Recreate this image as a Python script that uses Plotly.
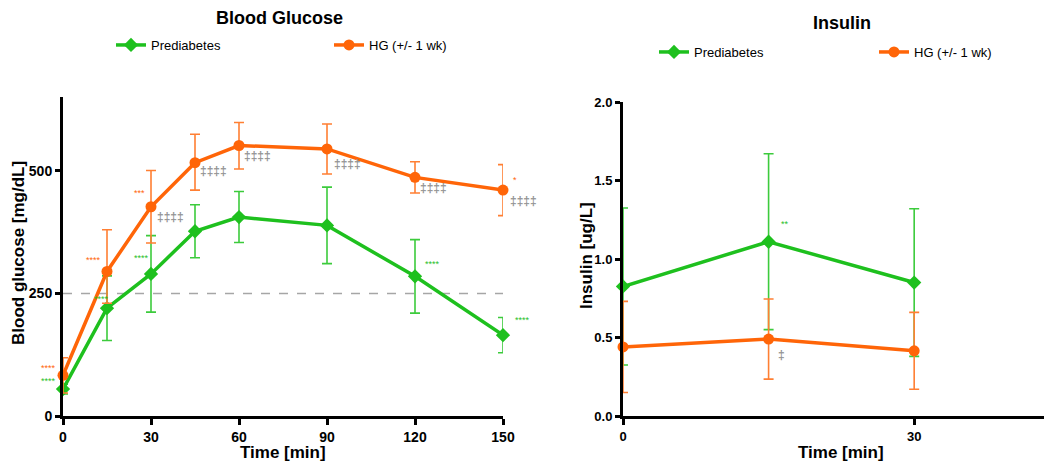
import plotly.graph_objects as go

# ---------------- data ----------------
glu_time = [0, 15, 30, 45, 60, 90, 120, 150]
glu_pre = [55, 220, 290, 377, 406, 389, 285, 165]
glu_pre_err = [10, 66, 78, 54, 52, 78, 75, 36]
glu_hg = [83, 295, 427, 517, 552, 545, 487, 461]
glu_hg_err_plus = [36, 85, 74, 58, 47, 51, 32, 52]
glu_hg_err_minus = [36, 65, 74, 56, 48, 51, 32, 52]
glu_threshold = 250

ins_time = [0, 15, 30]
ins_pre = [0.825, 1.11, 0.85]
ins_pre_err = [0.5, 0.56, 0.47]
ins_hg = [0.44, 0.49, 0.415]
ins_hg_err = [0.29, 0.255, 0.245]

series_names = ["Prediabetes", "HG (+/- 1 wk)"]

# significance labels: (panel, series, point index, text, kind)
sig_labels = [
    ("glu", "hg", 0, "****", "star"),
    ("glu", "pre", 0, "****", "star"),
    ("glu", "hg", 1, "****", "star"),
    ("glu", "pre", 1, "****", "star"),
    ("glu", "hg", 2, "***", "star"),
    ("glu", "pre", 2, "****", "star"),
    ("glu", "hg", 2, "‡‡‡‡", "dag"),
    ("glu", "hg", 3, "‡‡‡‡", "dag"),
    ("glu", "hg", 4, "‡‡‡‡", "dag"),
    ("glu", "hg", 5, "‡‡‡‡", "dag"),
    ("glu", "hg", 6, "‡‡‡‡", "dag"),
    ("glu", "hg", 7, "‡‡‡‡", "dag"),
    ("glu", "hg", 7, "*", "star"),
    ("glu", "pre", 6, "****", "star"),
    ("glu", "pre", 7, "****", "star"),
    ("ins", "pre", 1, "**", "star"),
    ("ins", "hg", 1, "‡", "dag"),
]
# pixel offsets for each label (xshift, yshift, xanchor)
sig_offsets = [
    (-5, 9, "right"), (-5, 10, "right"), (-4, 13, "right"), (-6, 11, "center"),
    (-12, 16, "center"), (-10, 18, "center"),
    (4, -10, "left"), (3, -8, "left"), (3, -10, "left"), (5, -15, "left"),
    (3, -11, "left"), (5, -11, "left"),
    (8, 12, "left"), (8, 14, "left"), (10, 17, "left"),
    (10, 20, "left"), (13, -16, "center"),
]

# ---------------- style ----------------
GREEN = "#1EC01E"
GREEN_ERR = "#3CCB3C"
ORANGE = "#FF6508"
ORANGE_ERR = "#FF7F33"
FONT = "Arial, Liberation Sans, sans-serif"

# page has an 8px body margin; figure coordinates are screen pixels minus 8
W, H, OFF = 1044, 458, 8


def px(x):
    return (x - OFF) / W


def py(y):
    return 1 - (y - OFF) / H


fig = go.Figure()


def add_series(x, y, ep, em, name, color, ecolor, symbol, xa, ya, legend):
    fig.add_trace(go.Scatter(
        x=x, y=y, name=name, mode="lines+markers",
        line=dict(color=color, width=3.5),
        marker=dict(symbol=symbol, size=11, color=color),
        error_y=dict(type="data", array=ep, arrayminus=em, symmetric=False,
                     color=ecolor, thickness=1.6, width=5),
        xaxis=xa, yaxis=ya, legend=legend, cliponaxis=False,
    ))


add_series(glu_time, glu_pre, glu_pre_err, glu_pre_err, series_names[0], GREEN, GREEN_ERR,
           "diamond", "x", "y", "legend")
add_series(glu_time, glu_hg, glu_hg_err_plus, glu_hg_err_minus, series_names[1], ORANGE, ORANGE_ERR,
           "circle", "x", "y", "legend2")
add_series(ins_time, ins_pre, ins_pre_err, ins_pre_err, series_names[0], GREEN, GREEN_ERR,
           "diamond", "x2", "y2", "legend3")
add_series(ins_time, ins_hg, ins_hg_err, ins_hg_err, series_names[1], ORANGE, ORANGE_ERR,
           "circle", "x2", "y2", "legend4")

# threshold line
fig.add_shape(type="line", xref="x", yref="y", x0=glu_time[0], x1=glu_time[-1],
              y0=glu_threshold, y1=glu_threshold,
              line=dict(color="#A6A6A6", width=1.3, dash="dash"), layer="below")

# significance annotations
data_map = {
    ("glu", "pre"): (glu_time, glu_pre, "x", "y"),
    ("glu", "hg"): (glu_time, glu_hg, "x", "y"),
    ("ins", "pre"): (ins_time, ins_pre, "x2", "y2"),
    ("ins", "hg"): (ins_time, ins_hg, "x2", "y2"),
}
for (panel, ser, idx, txt, kind), (dx, dy, xanc) in zip(sig_labels, sig_offsets):
    xs, ys, xr, yr = data_map[(panel, ser)]
    if kind == "dag":
        font = dict(color="#959595", size=12, family=FONT, weight="bold")
    else:
        font = dict(color=(GREEN if ser == "pre" else ORANGE), size=9, family=FONT)
        dy -= 2
    fig.add_annotation(x=xs[idx], y=ys[idx], xref=xr, yref=yr, text=txt, showarrow=False,
                       xshift=dx, yshift=dy, xanchor=xanc, yanchor="middle", font=font)


# titles & axis titles
def paper_text(x, y, text, size, angle=0):
    fig.add_annotation(x=px(x), y=py(y), xref="paper", yref="paper", text=text,
                       showarrow=False, textangle=angle, xanchor="center", yanchor="middle",
                       font=dict(size=size, family=FONT, color="black", weight="bold"))


paper_text(279, 18, "Blood Glucose", 18)
paper_text(842, 23, "Insulin", 18)
paper_text(18, 253, "Blood glucose [mg/dL]", 17, -90)
paper_text(586, 256, "Insulin [ug/L]", 17, -90)
paper_text(283, 452, "Time [min]", 17)
paper_text(841, 452, "Time [min]", 17)

axis_common = dict(showline=True, linecolor="black", linewidth=3, ticks="outside",
                   tickwidth=2.5, tickcolor="black", showgrid=False, zeroline=False,
                   tickfont=dict(family=FONT, size=14, color="black", weight="bold"))
tf13 = dict(family=FONT, size=13, color="black", weight="bold")


def legend_at(x_px, y_px):
    return dict(orientation="h", x=px(x_px), y=py(y_px), xanchor="left", yanchor="middle",
                itemwidth=30, font=dict(family=FONT, size=13, color="black"),
                bgcolor="rgba(0,0,0,0)")


fig.update_layout(
    width=W, height=H, margin=dict(l=0, r=0, t=0, b=0, autoexpand=False),
    paper_bgcolor="white", plot_bgcolor="white",
    font=dict(family=FONT, color="black"),
    xaxis=dict(domain=[px(63), px(503)], range=[0, 150], tickvals=[0, 30, 60, 90, 120, 150],
               ticklen=6, anchor="y", **axis_common),
    yaxis=dict(domain=[py(416), py(97)], range=[0, 651], tickvals=[0, 250, 500],
               ticklen=5, anchor="x", **axis_common),
    xaxis2=dict(domain=[px(623), 1.0], range=[0, 44.2], tickvals=[0, 30],
                ticklen=6, anchor="y2", **{**axis_common, "tickfont": tf13}),
    yaxis2=dict(domain=[py(416), py(102)], range=[0, 2.0], tickvals=[0, 0.5, 1.0, 1.5, 2.0],
                tickformat=".1f", ticklen=5, anchor="x2", **{**axis_common, "tickfont": tf13}),
    legend=legend_at(111, 45),
    legend2=legend_at(329, 45),
    legend3=legend_at(654, 52),
    legend4=legend_at(874, 52),
    showlegend=True,
)

fig.write_html("out.html")
